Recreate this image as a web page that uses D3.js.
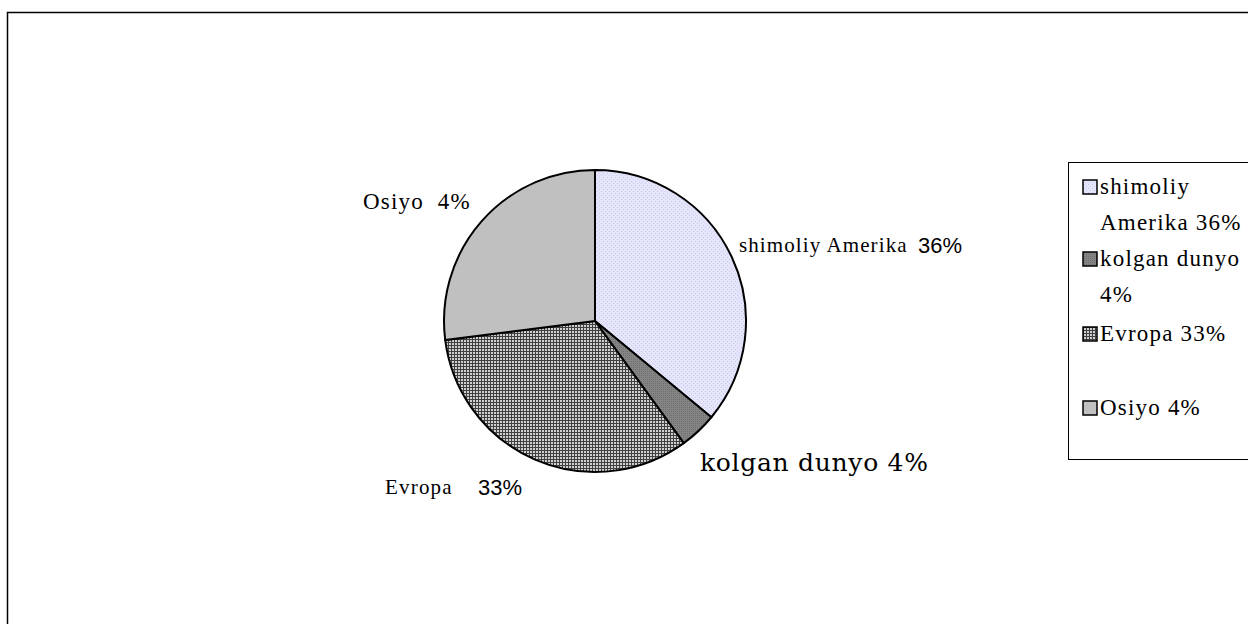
<!DOCTYPE html>
<html>
<head>
<meta charset="utf-8">
<script src="https://cdn.jsdelivr.net/npm/d3@7"></script>
<style>
  body { margin: 0; background: #fff; }
  svg { display: block; }
</style>
</head>
<body>
<div id="chart"></div>
<script>
// data
var categories = ["shimoliy Amerika", "kolgan dunyo", "Evropa", "Osiyo"];
var values = [36, 4, 33, 27];
var pieLabels = ["shimoliy Amerika", "kolgan dunyo 4%", "Evropa", "Osiyo  4%"];
var pieLabelPct = ["36%", "", "33%", ""];
var legendLines = [["shimoliy", "Amerika 36%"], ["kolgan dunyo", "4%"], ["Evropa 33%"], ["Osiyo 4%"]];

var serif = "'Liberation Serif', 'Times New Roman', Times, serif";

var svg = d3.select("#chart").append("svg")
    .attr("width", 1248)
    .attr("height", 624);

// patterns for the slices
var defs = svg.append("defs");

var p0 = defs.append("pattern").attr("id", "pat0")
    .attr("width", 4).attr("height", 4).attr("patternUnits", "userSpaceOnUse");
p0.append("rect").attr("width", 4).attr("height", 4).attr("fill", "#e4e4fb");
p0.append("rect").attr("x", 0).attr("y", 0).attr("width", 1).attr("height", 1).attr("fill", "#ccccee");
p0.append("rect").attr("x", 2).attr("y", 2).attr("width", 1).attr("height", 1).attr("fill", "#ccccee");

var p1 = defs.append("pattern").attr("id", "pat1")
    .attr("width", 2).attr("height", 2).attr("patternUnits", "userSpaceOnUse");
p1.append("rect").attr("width", 2).attr("height", 2).attr("fill", "#858585");
p1.append("rect").attr("width", 1).attr("height", 1).attr("fill", "#6e6e6e");

var p2 = defs.append("pattern").attr("id", "pat2")
    .attr("width", 3).attr("height", 3).attr("patternUnits", "userSpaceOnUse");
p2.append("rect").attr("width", 3).attr("height", 3).attr("fill", "#d0d0d0");
p2.append("rect").attr("width", 3).attr("height", 1).attr("fill", "#404040");
p2.append("rect").attr("width", 1).attr("height", 3).attr("fill", "#404040");

var fills = ["url(#pat0)", "url(#pat1)", "url(#pat2)", "#c0c0c0"];

// outer frame
svg.append("rect")
    .attr("x", 7.5).attr("y", 12.5)
    .attr("width", 1260).attr("height", 640)
    .attr("fill", "none")
    .attr("stroke", "#000")
    .attr("stroke-width", 1.5);

// pie
var cx = 595, cy = 321, radius = 151;
var pie = d3.pie().sort(null).value(function(d) { return d; });
var arc = d3.arc().innerRadius(0).outerRadius(radius);

var g = svg.append("g").attr("transform", "translate(" + cx + "," + cy + ")");
g.selectAll("path")
    .data(pie(values))
    .enter().append("path")
    .attr("d", arc)
    .attr("fill", function(d, i) { return fills[i]; })
    .attr("stroke", "#000")
    .attr("stroke-width", 2)
    .attr("stroke-linejoin", "round");

// pie labels
var labelPos = [[739, 252], [700, 471], [385, 494], [363, 209]];
var labelFont = [serif, "'DejaVu Serif', serif", serif, serif];
var labelSize = [21, 25, 21, 23];
var labelSpacing = [1.1, 0.7, 1.2, 1.2];
var pctPos = [[918, 253], null, [478, 495], null];

pieLabels.forEach(function(t, i) {
    svg.append("text")
        .attr("x", labelPos[i][0]).attr("y", labelPos[i][1])
        .attr("font-family", labelFont[i])
        .attr("font-size", labelSize[i])
        .attr("letter-spacing", labelSpacing[i])
        .attr("fill", "#000")
        .style("white-space", "pre")
        .text(t);
    if (pctPos[i]) {
        svg.append("text")
            .attr("x", pctPos[i][0]).attr("y", pctPos[i][1])
            .attr("font-family", "'Liberation Sans', Arial, sans-serif")
            .attr("font-size", 22)
            .attr("fill", "#000")
            .text(pieLabelPct[i]);
    }
});

// legend
svg.append("rect")
    .attr("x", 1068.5).attr("y", 162.5)
    .attr("width", 200).attr("height", 297)
    .attr("fill", "#fff")
    .attr("stroke", "#000")
    .attr("stroke-width", 1);

var legendY = [180, 252, 327, 401];
legendLines.forEach(function(lines, i) {
    svg.append("rect")
        .attr("x", 1083).attr("y", legendY[i])
        .attr("width", 14).attr("height", 14)
        .attr("fill", fills[i])
        .attr("stroke", "#000")
        .attr("stroke-width", 1.5);
    lines.forEach(function(l, j) {
        svg.append("text")
            .attr("x", 1100).attr("y", legendY[i] + 14 + j * 36)
            .attr("font-family", serif)
            .attr("font-size", 23)
            .attr("letter-spacing", 1.2)
            .attr("fill", "#000")
            .text(l);
    });
});
</script>
</body>
</html>
